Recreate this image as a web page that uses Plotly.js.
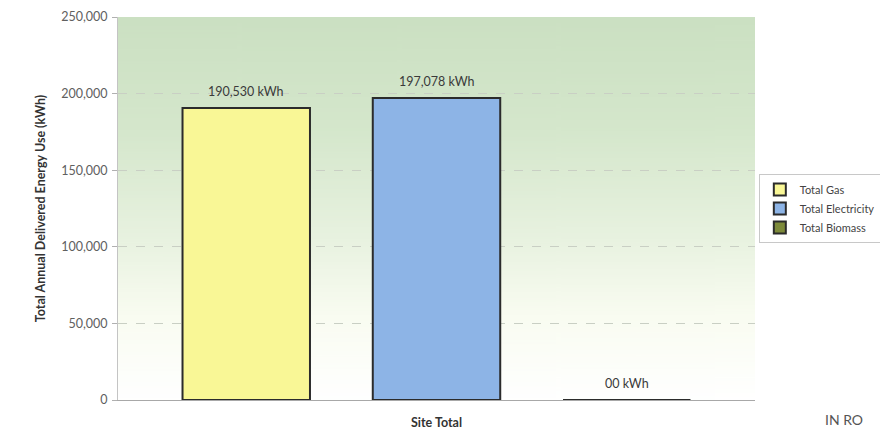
<!DOCTYPE html>
<html>
<head>
<meta charset="utf-8">
<script src="https://cdn.plot.ly/plotly-3.0.1.min.js"></script>
<style>
  html, body { margin: 0; padding: 0; background: #ffffff; }
  #chart { width: 880px; height: 430px; }
</style>
</head>
<body>
<div id="chart"></div>
<script>
// Site energy use by fuel
const categories = ["Site Total"];
const seriesNames = ["Total Gas", "Total Electricity", "Total Biomass"];
const gasValues = [190530];
const electricityValues = [197078];
const biomassValues = [0];
const yTickValues = [0, 50000, 100000, 150000, 200000, 250000];
const yTickLabels = ["0", "50,000", "100,000", "150,000", "200,000", "250,000"];

const seriesValues = [gasValues, electricityValues, biomassValues];
const seriesColors = ["#f9f796", "#8db4e6", "#7d8a3a"];

const BAR_GAP = 0.104;
const BAR_GROUP_GAP = 0.33;

// Vertical green-to-white wash for the plotting area
function gradientImage() {
  const c = document.createElement("canvas");
  c.width = 8; c.height = 400;
  const g = c.getContext("2d");
  const grad = g.createLinearGradient(0, 0, 0, 400);
  grad.addColorStop(0.00, "#cbe0c2");
  grad.addColorStop(0.30, "#d5e7cc");
  grad.addColorStop(0.58, "#e8f2e0");
  grad.addColorStop(0.78, "#f9fcf1");
  grad.addColorStop(1.00, "#ffffff");
  g.fillStyle = grad;
  g.fillRect(0, 0, 8, 400);
  return c.toDataURL("image/png");
}

// "#,#00"-style number format: thousands separators, at least two digits
function formatKWh(v) {
  const s = Math.round(v).toLocaleString("en-US");
  return (s.length < 2 ? "0" + s : s) + " kWh";
}

const font = "Lato, 'Open Sans', 'DejaVu Sans', sans-serif";

const traces = seriesNames.map((name, i) => ({
  type: "bar",
  name: name,
  x: categories,
  y: seriesValues[i],
  marker: { color: seriesColors[i], line: { color: "#2b2b2b", width: 2 } },
  cliponaxis: false,
  hoverinfo: "skip"
}));

// Value labels above each bar, centred on that bar's slot within the group
const nSeries = seriesNames.length;
const slot = (1 - BAR_GAP) / nSeries;
const valueLabels = [];
categories.forEach((cat, ci) => {
  seriesValues.forEach((vals, si) => {
    valueLabels.push({
      text: formatKWh(vals[ci]),
      xref: "x", yref: "y",
      x: ci + (si - (nSeries - 1) / 2) * slot,
      y: vals[ci],
      xanchor: "center", yanchor: "bottom",
      yshift: 7,
      showarrow: false,
      font: { family: font, size: 12.5, color: "#3a3a3a" }
    });
  });
});

const layout = {
  width: 880,
  height: 430,
  margin: { l: 118, r: 125, t: 17, b: 30, pad: 0, autoexpand: false },
  paper_bgcolor: "#ffffff",
  plot_bgcolor: "rgba(0,0,0,0)",
  barmode: "group",
  bargap: BAR_GAP,
  bargroupgap: BAR_GROUP_GAP,
  font: { family: font, color: "#444" },
  showlegend: true,
  legend: {
    x: 1.006, xanchor: "left",
    y: 0.5, yanchor: "middle",
    bgcolor: "#ffffff",
    bordercolor: "#c8c8c8",
    borderwidth: 1,
    font: { family: font, size: 11, color: "#444" },
    itemwidth: 30,
    tracegroupgap: 0
  },
  xaxis: {
    type: "category",
    showgrid: false,
    showline: true,
    linecolor: "#a8a8a8",
    linewidth: 1,
    ticks: "",
    tickfont: { family: font, size: 12.5, color: "#333", weight: "bold" },
    ticklabelstandoff: 11,
    fixedrange: true
  },
  yaxis: {
    range: [0, 250000],
    tickvals: yTickValues,
    ticktext: yTickLabels,
    tickfont: { family: font, size: 12.5, color: "#606060" },
    ticks: "outside",
    ticklen: 5,
    tickcolor: "#b0b0b0",
    ticklabelstandoff: 2,
    showline: true,
    linecolor: "#c4c4c4",
    linewidth: 1,
    showgrid: true,
    gridcolor: "#c9cfc4",
    griddash: "dash",
    gridwidth: 1,
    zeroline: false,
    title: {
      text: "Total Annual Delivered Energy Use (kWh)",
      font: { family: font, size: 12.5, color: "#333", weight: "bold" },
      standoff: 12
    },
    fixedrange: true
  },
  images: [{
    source: gradientImage(),
    xref: "paper", yref: "paper",
    x: 0, y: 1, sizex: 1, sizey: 1,
    sizing: "stretch",
    layer: "below"
  }],
  annotations: valueLabels.concat([{
    text: "IN RO",
    xref: "paper", yref: "paper",
    x: 1.108, y: -0.052,
    xanchor: "left", yanchor: "middle",
    borderpad: 0,
    showarrow: false,
    font: { family: font, size: 14, color: "#555" }
  }])
};

Plotly.newPlot("chart", traces, layout, { displayModeBar: false, staticPlot: true });
</script>
</body>
</html>
